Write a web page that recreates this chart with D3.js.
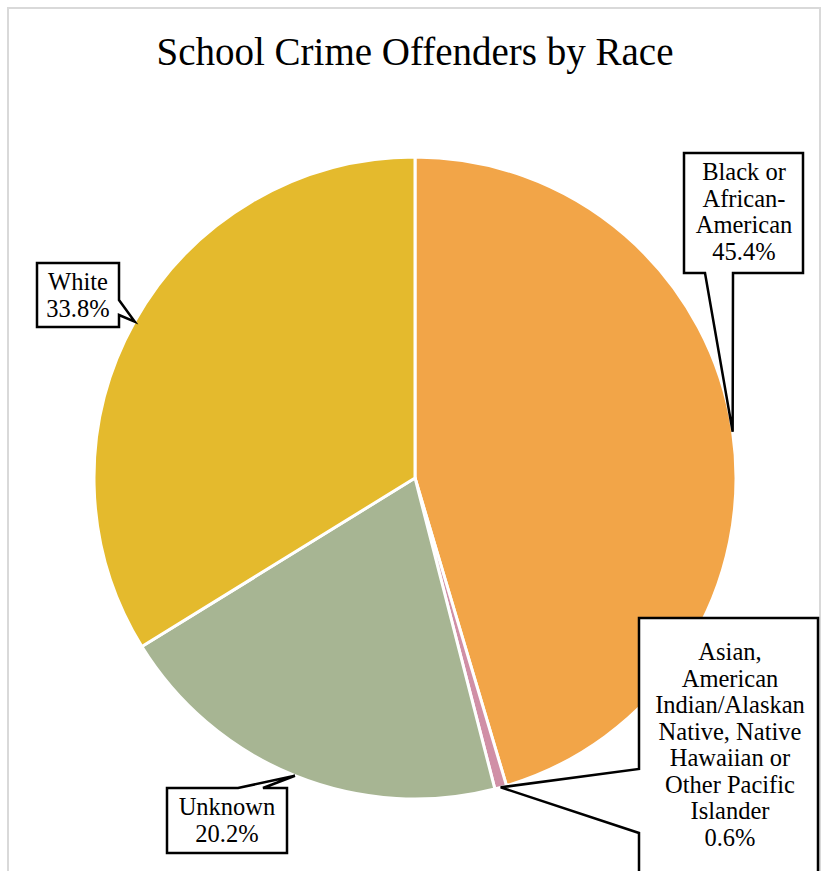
<!DOCTYPE html>
<html>
<head>
<meta charset="utf-8">
<script src="https://cdn.jsdelivr.net/npm/d3@7"></script>
<style>
  html, body { margin: 0; padding: 0; background: #fff; }
  svg { display: block; }
  text, tspan { font-family: "Liberation Serif", "DejaVu Serif", serif; fill: #000; }
</style>
</head>
<body>
<svg id="chart" width="825" height="871"></svg>
<script>
// ---- data ----
const categories = [
  "Black or African-American",
  "Asian, American Indian/Alaskan Native, Native Hawaiian or Other Pacific Islander",
  "Unknown",
  "White"
];
const values = [45.4, 0.6, 20.2, 33.8];
const labelLines = [
  ["Black or", "African-", "American", "45.4%"],
  ["Asian,", "American", "Indian/Alaskan", "Native, Native", "Hawaiian or", "Other Pacific", "Islander", "0.6%"],
  ["Unknown", "20.2%"],
  ["White", "33.8%"]
];
const colors = ["#F2A548", "#D08FA6", "#A7B593", "#E4BA2D"];
const title = "School Crime Offenders by Race";

// ---- layout (callout boxes: x0,y0,x1,y1, side of pointer, pointer base a,b) ----
const boxes = [
  {x0: 684, y0: 153, x1: 803, y1: 273, side: "bottom", a: 705, b: 733, cx: 744, ty: 180},
  {x0: 639, y0: 618, x1: 818, y1: 905, side: "left", a: 769, b: 833, cx: 730, ty: 660},
  {x0: 167, y0: 788, x1: 287, y1: 853, side: "top", a: 238, b: 263, cx: 227, ty: 815},
  {x0: 37, y0: 263, x1: 119, y1: 327, side: "right", a: 300, b: 315, cx: 78, ty: 290}
];

const W = 825, H = 871;
const cx = 415, cy = 478, R = 321;
const svg = d3.select("#chart");
const serif = "'Liberation Serif', 'DejaVu Serif', serif";

// chart area border
svg.append("rect")
  .attr("x", 8).attr("y", 8).attr("width", 812).attr("height", 880)
  .attr("fill", "#fff").attr("stroke", "#D9D9D9").attr("stroke-width", 2);

svg.append("text")
  .attr("x", 415).attr("y", 65)
  .attr("text-anchor", "middle")
  .attr("font-family", serif)
  .attr("font-size", 39)
  .text(title);

const pie = d3.pie().sort(null).value(d => d)(values);
const arc = d3.arc().innerRadius(0).outerRadius(R);

const g = svg.append("g").attr("transform", `translate(${cx},${cy})`);
g.selectAll("path.slice")
  .data(pie)
  .join("path")
  .attr("class", "slice")
  .attr("d", arc)
  .attr("fill", (d, i) => colors[i])
  .attr("stroke", "#fff")
  .attr("stroke-width", 3)
  .attr("stroke-linejoin", "round");

// callouts
pie.forEach((d, i) => {
  const mid = (d.startAngle + d.endAngle) / 2;
  const tx = cx + R * Math.sin(mid);
  const ty = cy - R * Math.cos(mid);
  const b = boxes[i];
  let p;
  if (b.side === "bottom") {
    p = `M${b.x0},${b.y0}H${b.x1}V${b.y1}H${b.b}L${tx},${ty}L${b.a},${b.y1}H${b.x0}Z`;
  } else if (b.side === "right") {
    p = `M${b.x0},${b.y0}H${b.x1}V${b.a}L${tx},${ty}L${b.x1},${b.b}V${b.y1}H${b.x0}Z`;
  } else if (b.side === "top") {
    p = `M${b.x0},${b.y0}H${b.a}L${tx},${ty}L${b.b},${b.y0}H${b.x1}V${b.y1}H${b.x0}Z`;
  } else {
    p = `M${b.x0},${b.y0}H${b.x1}V${b.y1}H${b.x0}V${b.b}L${tx},${ty}L${b.x0},${b.a}Z`;
  }
  svg.append("path")
    .attr("d", p)
    .attr("fill", "#fff")
    .attr("stroke", "#000")
    .attr("stroke-width", 2.5)
    .attr("stroke-linejoin", "miter");
  const t = svg.append("text")
    .attr("text-anchor", "middle")
    .attr("font-family", serif)
    .attr("font-size", 24.5);
  labelLines[i].forEach((line, k) => {
    t.append("tspan")
      .attr("x", b.cx)
      .attr("y", b.ty + k * 26.5)
      .text(line);
  });
});
</script>
</body>
</html>
